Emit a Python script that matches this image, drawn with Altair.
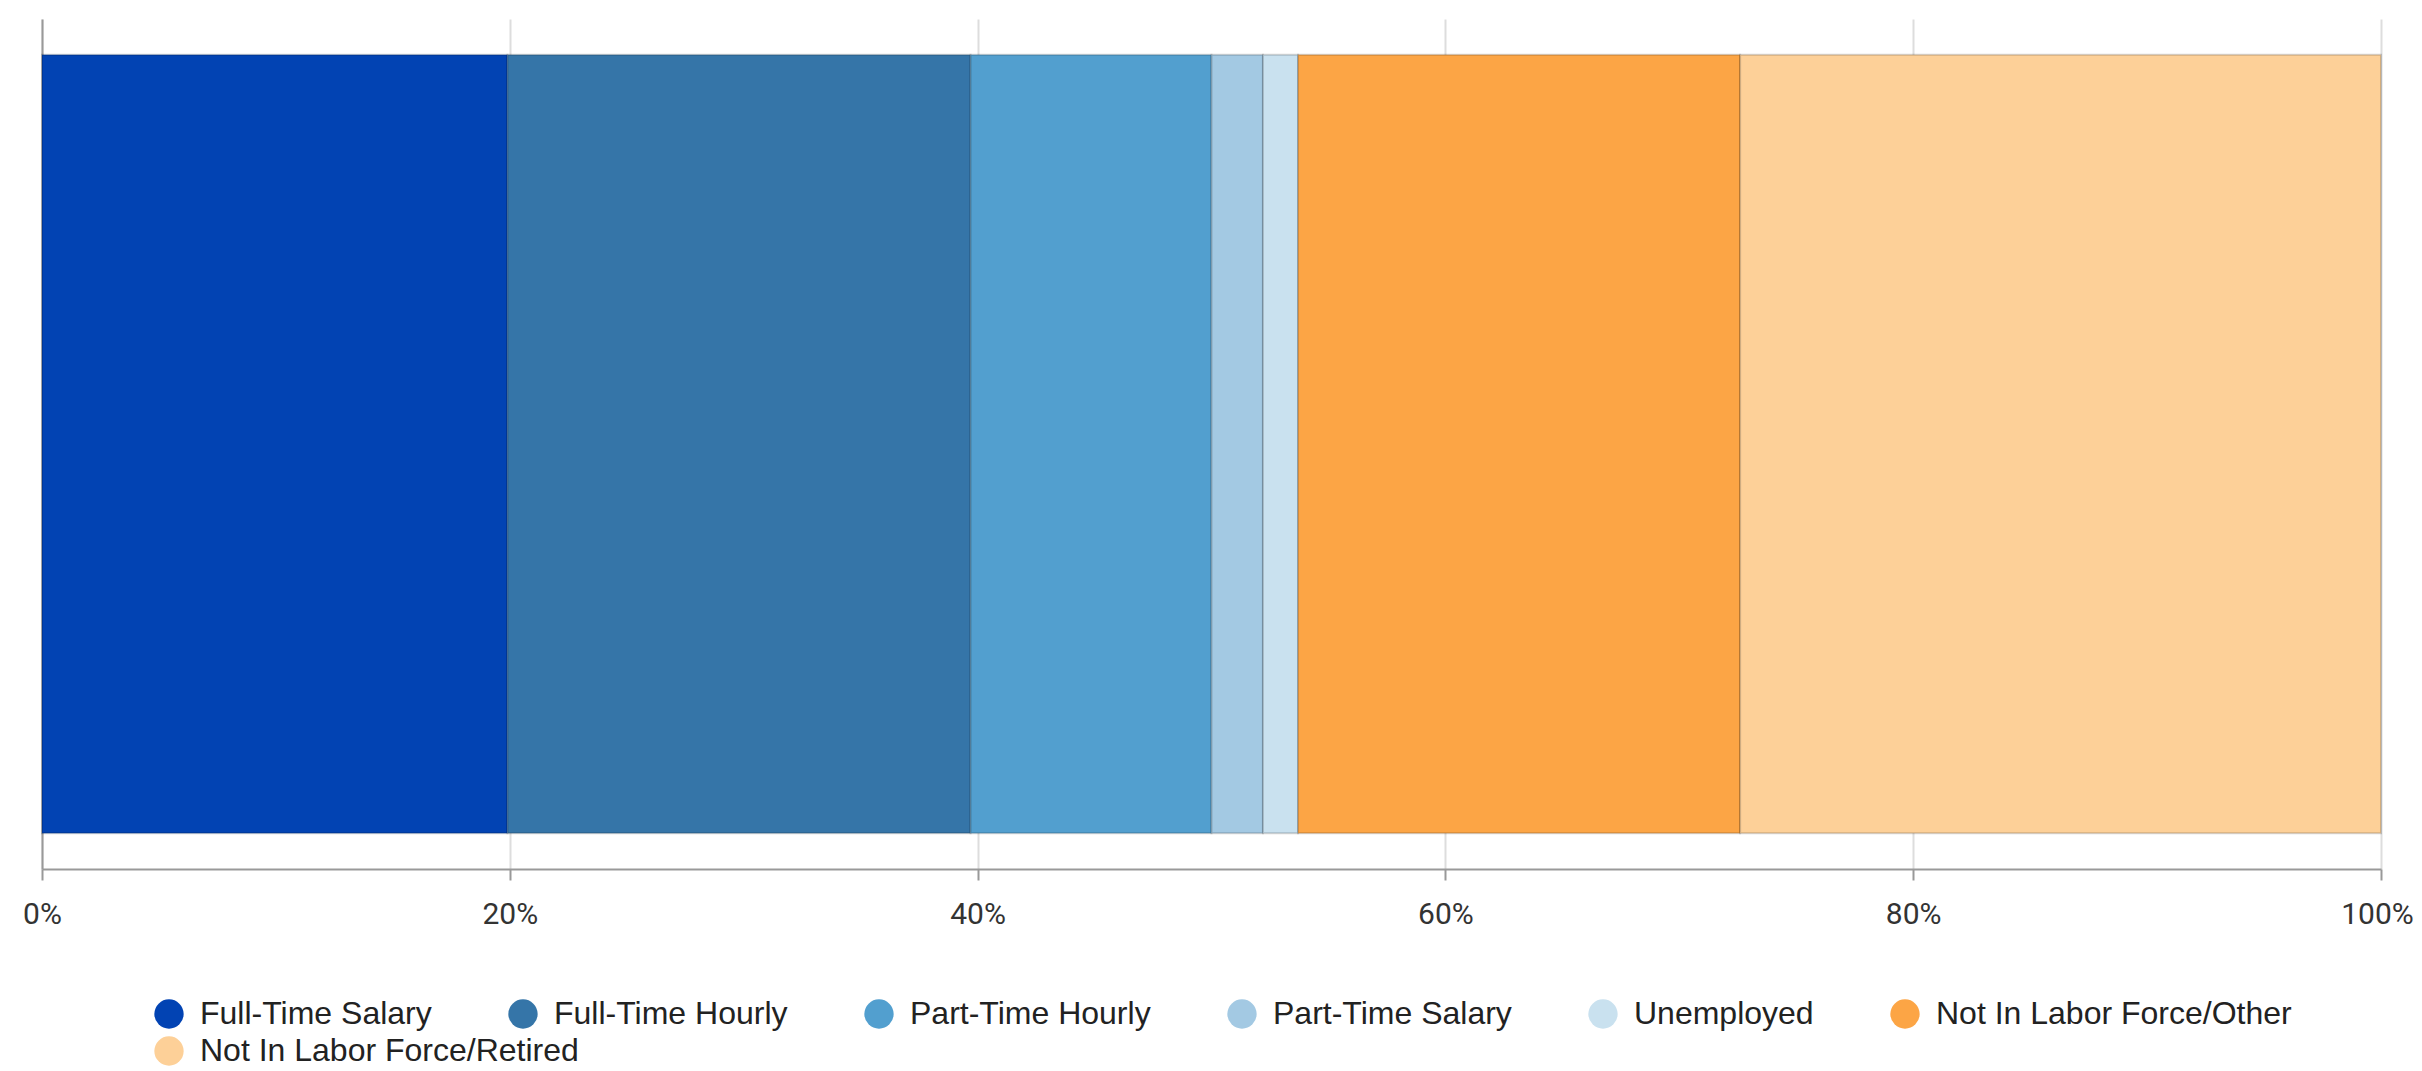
import altair as alt
import pandas as pd

categories = [
    "Full-Time Salary",
    "Full-Time Hourly",
    "Part-Time Hourly",
    "Part-Time Salary",
    "Unemployed",
    "Not In Labor Force/Other",
    "Not In Labor Force/Retired",
]
values = [19.9, 19.8, 10.3, 2.2, 1.5, 18.9, 27.4]
colors = ["#0243B3", "#3575A8", "#529FCF", "#A3C9E3", "#C9E1EF", "#FCA545", "#FDD098"]
tick_values = [0, 0.2, 0.4, 0.6, 0.8, 1.0]

df = pd.DataFrame({
    "category": categories,
    "category2": categories,
    "value": values,
    "order": list(range(len(categories))),
    "group": ["all"] * len(categories),
})

legend_common = dict(
    title=None,
    orient="none",
    legendX=111,
    direction="horizontal",
    columns=6,
    columnPadding=75,
    rowPadding=7,
    symbolType="circle",
    symbolSize=860,
    symbolStrokeWidth=0,
    symbolOpacity=1,
    labelFont="Liberation Sans",
    labelFontSize=32,
    labelColor="#222222",
    labelOffset=15,
    labelLimit=0,
    padding=0,
)

x_enc = alt.X(
    "value:Q",
    stack="normalize",
    scale=alt.Scale(domain=[0, 1], nice=False),
    axis=alt.Axis(
        values=tick_values,
        format=".0%",
        title=None,
        grid=True,
        gridColor="#DDDDDD",
        gridWidth=2,
        domainColor="#999999",
        domainWidth=2,
        tickColor="#999999",
        tickWidth=2,
        tickSize=11,
        labelFont="Roboto",
        labelFontSize=30,
        labelColor="#333333",
        labelPadding=19,
        labelFlush=False,
        labelOverlap=False,
        labelOffset={"condition": {"test": "datum.value >= 1", "value": -4}, "value": 0},
    ),
)
y_enc = alt.Y(
    "group:N",
    scale=alt.Scale(paddingInner=0, paddingOuter=0.046),
    axis=alt.Axis(
        labels=False, ticks=False, title=None, grid=False,
        domainColor="#999999", domainWidth=2,
    ),
)

bars = alt.Chart(df).mark_bar(
    stroke="#000000", strokeOpacity=0.17, strokeWidth=2
).encode(
    x=x_enc,
    y=y_enc,
    color=alt.Color(
        "category:N",
        scale=alt.Scale(domain=categories, range=colors),
        sort=categories,
        legend=alt.Legend(values=categories[:6], legendY=979, **legend_common),
    ),
    order=alt.Order("order:Q"),
)

legend_row2 = alt.Chart(df).transform_filter(
    alt.datum.category2 == categories[6]
).mark_bar(opacity=0).encode(
    x=alt.X("value:Q", stack="normalize", scale=alt.Scale(domain=[0, 1], nice=False)),
    y=alt.Y("group:N"),
    color=alt.Color(
        "category2:N",
        scale=alt.Scale(domain=categories[6:], range=colors[6:]),
        legend=alt.Legend(legendY=1016, **legend_common),
    ),
)

chart = alt.layer(bars, legend_row2).resolve_scale(color="independent").properties(
    width=2339,
    height=850,
    autosize=alt.AutoSizeParams(type="none"),
    padding={"left": 34, "top": 11, "right": 33, "bottom": 200},
).configure_view(stroke=None)

chart.save("out.html", embed_options={"renderer": "svg", "actions": False})
